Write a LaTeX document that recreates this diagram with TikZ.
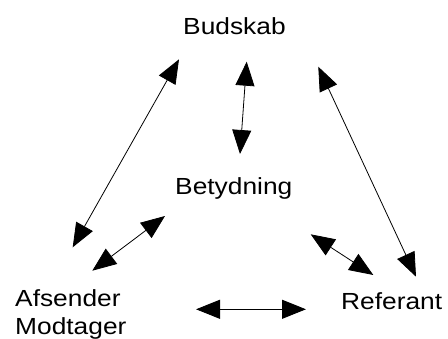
\documentclass[tikz,border=0pt]{standalone}
\usepackage{fontspec}
\setmainfont{Liberation Sans}[FakeStretch=1.13]
\usetikzlibrary{arrows.meta}
\begin{document}
\begin{tikzpicture}[x=1pt,y=-1pt,
  lbl/.style={inner sep=0pt,anchor=base west,font=\fontsize{23.3}{28.3}\selectfont},
  biarrow/.style={line width=0.8pt,{Triangle[length=24pt,width=19pt]}-{Triangle[length=24pt,width=19pt]}}]
\useasboundingbox[fill=white] (0,0) rectangle (448,339);
\node[lbl] (bud) at (183,34.3) {Budskab};
\node[lbl] (bet) at (175,194.3) {Betydning};
\node[lbl,align=left] (afs) at (15,335) {Afsender\\Modtager};
\node[lbl] (ref) at (341,310) {Referant};
% endpoints
\coordinate (budA) at (179,59.3);
\coordinate (afsB) at (72.7,247.3);
\coordinate (budC) at (246.7,61.7);
\coordinate (betB) at (240,154);
\coordinate (budR) at (318.3,66.7);
\coordinate (refB) at (416,276.7);
\coordinate (betA) at (165,216);
\coordinate (afsC) at (92.3,270.7);
\coordinate (betR) at (310.7,234.3);
\coordinate (refC) at (373.3,275);
\coordinate (afsR) at (196,309.3);
\coordinate (refL) at (306,309.3);
\draw[biarrow] (budA) -- (afsB);
\draw[biarrow] (budC) -- (betB);
\draw[biarrow] (budR) -- (refB);
\draw[biarrow] (betA) -- (afsC);
\draw[biarrow] (betR) -- (refC);
\draw[biarrow] (afsR) -- (refL);
\end{tikzpicture}
\end{document}
